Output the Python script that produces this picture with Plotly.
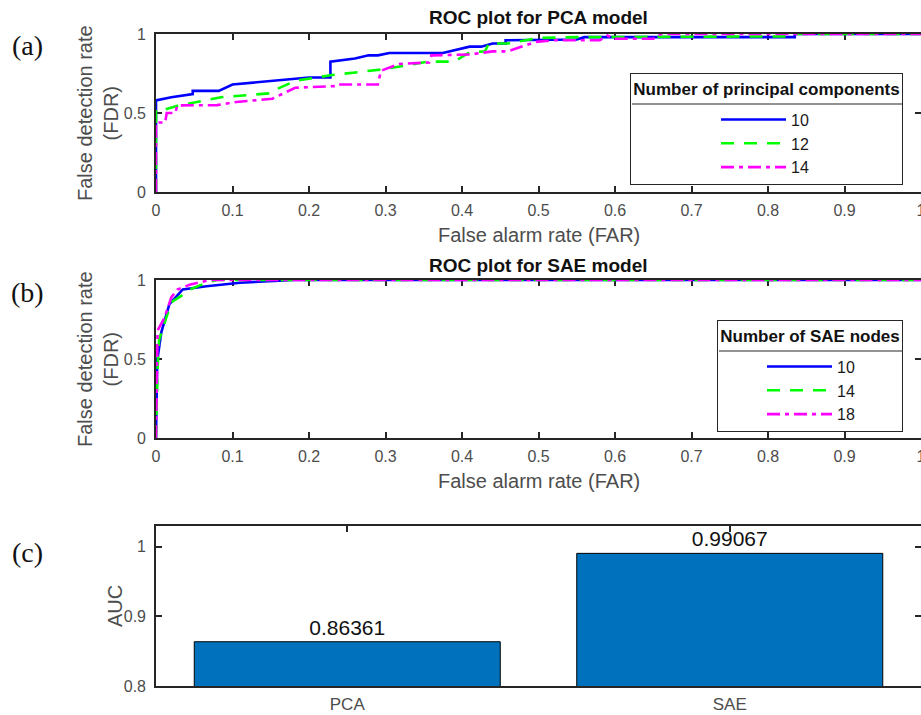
import plotly.graph_objects as go

# ---------------- data ----------------
# (a) ROC for PCA model (FAR, FDR)
pca10_far = [0, 0, 0.02, 0.048, 0.048, 0.082, 0.1, 0.2, 0.228, 0.228, 0.26, 0.278, 0.29, 0.305, 0.375, 0.41, 0.425, 0.44, 0.457, 0.457, 0.55, 0.56, 0.835, 0.835, 1]
pca10_fdr = [0, 0.58, 0.60, 0.62, 0.64, 0.64, 0.68, 0.725, 0.725, 0.825, 0.845, 0.865, 0.865, 0.88, 0.88, 0.92, 0.92, 0.94, 0.94, 0.96, 0.965, 0.98, 0.98, 1.0, 1.0]

pca12_far = [0, 0, 0.01, 0.027, 0.085, 0.15, 0.155, 0.183, 0.23, 0.296, 0.317, 0.356, 0.39, 0.41, 0.43, 0.435, 0.46, 0.5, 0.55, 0.83, 0.835, 1]
pca12_fdr = [0, 0.52, 0.52, 0.545, 0.60, 0.625, 0.645, 0.705, 0.74, 0.776, 0.793, 0.825, 0.825, 0.885, 0.89, 0.94, 0.94, 0.975, 0.98, 0.985, 1.0, 1.0]

pca14_far = [0, 0, 0.012, 0.014, 0.025, 0.028, 0.08, 0.105, 0.152, 0.182, 0.234, 0.236, 0.29, 0.294, 0.317, 0.357, 0.36, 0.41, 0.44, 0.46, 0.496, 0.52, 0.58, 0.59, 0.6, 0.65, 0.66, 1]
pca14_fdr = [0, 0.44, 0.44, 0.50, 0.50, 0.548, 0.55, 0.57, 0.59, 0.66, 0.67, 0.68, 0.68, 0.767, 0.81, 0.82, 0.865, 0.87, 0.89, 0.89, 0.95, 0.96, 0.96, 0.99, 0.97, 0.97, 1.0, 1.0]

# (b) ROC for SAE model
sae10_far = [0, 0.0016, 0.007, 0.0175, 0.035, 0.066, 0.11, 0.167, 0.18, 1]
sae10_fdr = [0, 0.49, 0.67, 0.847, 0.94, 0.96, 0.983, 0.998, 1.0, 1.0]

sae14_far = [0, 0.001, 0.002, 0.004, 0.013, 0.02, 0.04, 0.044, 0.07, 0.08, 1]
sae14_fdr = [0, 0.28, 0.43, 0.62, 0.76, 0.86, 0.92, 0.94, 0.99, 1.0, 1.0]

sae18_far = [0, 0.002, 0.011, 0.02, 0.028, 0.044, 0.07, 1]
sae18_fdr = [0, 0.68, 0.76, 0.89, 0.94, 0.97, 1.0, 1.0]

# (c) AUC
auc_models = ["PCA", "SAE"]
auc_values = [0.86361, 0.99067]

far_ticks = [0, 0.1, 0.2, 0.3, 0.4, 0.5, 0.6, 0.7, 0.8, 0.9, 1]
far_ticktext = ["0", "0.1", "0.2", "0.3", "0.4", "0.5", "0.6", "0.7", "0.8", "0.9", "1"]
fdr_ticks = [0, 0.5, 1]
fdr_ticktext = ["0", "0.5", "1"]
auc_ticks = [0.8, 0.9, 1]
auc_ticktext = ["0.8", "0.9", "1"]

# ---------------- styling ----------------
W, H = 921, 715
BLUE, GREEN, MAG = "#0000FF", "#00FF00", "#FF00FF"
AX = "#262626"
TICKC = "#4d4d4d"
FONT = "Liberation Sans, Arial, sans-serif"
LW = 2.6

def py(p):  # pixel y -> paper
    return 1 - p / H

def px(p):
    return p / W

XL = px(156)

fig = go.Figure()

def add(x, y, name, color, dash, xa, ya, legend):
    fig.add_trace(go.Scatter(
        x=x, y=y, name=name, mode="lines",
        line=dict(color=color, width=LW, dash=dash),
        xaxis=xa, yaxis=ya, legend=legend, cliponaxis=False))

DASH = "13px,10px"
DASHDOT = "13px,5px,4px,5px"

add(pca10_far, pca10_fdr, "10", BLUE, "solid", "x", "y", "legend")
add(pca12_far, pca12_fdr, "12", GREEN, DASH, "x", "y", "legend")
add(pca14_far, pca14_fdr, "14", MAG, DASHDOT, "x", "y", "legend")

add(sae10_far, sae10_fdr, "10", BLUE, "solid", "x2", "y2", "legend2")
add(sae14_far, sae14_fdr, "14", GREEN, DASH, "x2", "y2", "legend2")
add(sae18_far, sae18_fdr, "18", MAG, DASHDOT, "x2", "y2", "legend2")

fig.add_trace(go.Bar(
    x=auc_models, y=auc_values, width=0.8,
    marker=dict(color="#0072BD", line=dict(color="#000000", width=1)),
    texttemplate="%{y:.5f}", textposition="outside",
    textfont=dict(family=FONT, size=21, color="#111111"),
    cliponaxis=False, showlegend=False,
    xaxis="x3", yaxis="y3"))

common_axis = dict(
    showline=True, linecolor=AX, linewidth=1.6, mirror="ticks",
    ticks="inside", ticklen=6, tickwidth=1.5, tickcolor=AX,
    showgrid=False, zeroline=False, automargin=False,
    tickfont=dict(family=FONT, size=16, color=TICKC),
    ticklabeloverflow="allow",
    layer="below traces",
)

doms = {
    1: [py(192), py(34)],
    2: [py(438), py(280)],
    3: [py(686), py(526)],
}

layout = dict(
    width=W, height=H,
    margin=dict(l=0, r=0, t=0, b=0, pad=0, autoexpand=False),
    paper_bgcolor="white", plot_bgcolor="white",
    font=dict(family=FONT, color=TICKC),
    showlegend=True,
)

for i, (xa, ya) in enumerate([("xaxis", "yaxis"), ("xaxis2", "yaxis2")], start=1):
    suffix = "" if i == 1 else str(i)
    layout[xa] = dict(common_axis, domain=[XL, 1], range=[0, 1], anchor="y" + suffix,
                      tickvals=far_ticks, ticktext=far_ticktext, ticklabelstandoff=3)
    layout[ya] = dict(common_axis, domain=doms[i], range=[0, 1], anchor="x" + suffix,
                      tickvals=fdr_ticks, ticktext=fdr_ticktext, ticklabelstandoff=5)

layout["xaxis3"] = dict(common_axis, domain=[XL, 1], range=[-0.5, 1.5], anchor="y3",
                        type="category", ticklabelstandoff=2,
                        tickfont=dict(family=FONT, size=17, color=TICKC))
layout["yaxis3"] = dict(common_axis, domain=doms[3], range=[0.8, 1.03], anchor="x3",
                        tickvals=auc_ticks, ticktext=auc_ticktext, ticklabelstandoff=5)

legend_common = dict(
    bgcolor="rgba(255,255,255,0)", bordercolor=AX, borderwidth=1,
    font=dict(family=FONT, size=16, color="#1a1a1a"),
    itemwidth=65, xanchor="right", yanchor="top",
    itemclick=False, itemdoubleclick=False,
)
TSPAN = "<span style='font-size:17px;baseline-shift:8px'><b>{}</b></span>"
layout["legend"] = dict(legend_common, x=px(903), y=py(73), indentation=85,
                        title=dict(text=TSPAN.format("Number of principal components"), side="top center",
                                   font=dict(family=FONT, size=22, color="#111111")))
layout["legend2"] = dict(legend_common, x=px(903), y=py(320), indentation=44,
                         title=dict(text=TSPAN.format("Number of SAE nodes"), side="top center",
                                    font=dict(family=FONT, size=22, color="#111111")))

fig.update_layout(**layout)

ann = []
cx = (156 + 921) / 2
for txt, y in [("<b>ROC plot for PCA model</b>", 18), ("<b>ROC plot for SAE model</b>", 265)]:
    ann.append(dict(text=txt, x=px(cx), y=py(y), xref="paper", yref="paper", showarrow=False,
                    xanchor="center", yanchor="middle", font=dict(family=FONT, size=19, color="#111111")))
for y in [235, 481]:
    ann.append(dict(text="False alarm rate (FAR)", x=px(cx), y=py(y), xref="paper", yref="paper",
                    showarrow=False, xanchor="center", yanchor="middle",
                    font=dict(family=FONT, size=20, color=TICKC)))
for y in [113, 359]:
    ann.append(dict(text="False detection rate<br>(FDR)", x=px(98), y=py(y), xref="paper", yref="paper",
                    showarrow=False, xanchor="center", yanchor="middle", textangle=-90,
                    font=dict(family=FONT, size=20, color=TICKC)))
ann.append(dict(text="AUC", x=px(115), y=py(606), xref="paper", yref="paper", showarrow=False,
                xanchor="center", yanchor="middle", textangle=-90,
                font=dict(family=FONT, size=20, color=TICKC)))
for txt, y in [("(a)", 46), ("(b)", 292), ("(c)", 552)]:
    ann.append(dict(text=txt, x=px(27), y=py(y), xref="paper", yref="paper", showarrow=False,
                    xanchor="center", yanchor="middle",
                    font=dict(family="Liberation Serif, Times New Roman, serif", size=28, color="#111111")))
fig.update_layout(annotations=ann)

# divider lines under legend titles
fig.update_layout(shapes=[
    dict(type="line", xref="paper", yref="paper", x0=px(632), x1=px(902), y0=py(104), y1=py(104),
         line=dict(color=AX, width=1)),
    dict(type="line", xref="paper", yref="paper", x0=px(719), x1=px(902), y0=py(351), y1=py(351),
         line=dict(color=AX, width=1)),
])

fig.write_html("out.html")
